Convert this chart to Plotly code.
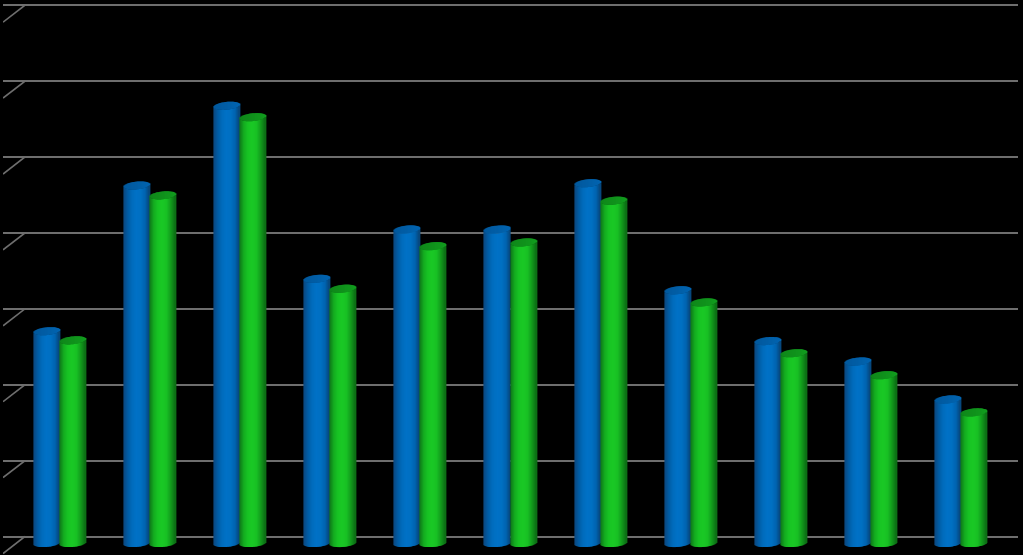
import numpy as np
import plotly.graph_objects as go

W, H = 1023, 555
categories = [f"C{i}" for i in range(1, 12)]
series_blue = [27.9, 47.1, 57.6, 34.8, 41.3, 41.3, 47.4, 33.3, 26.6, 23.9, 18.9]
series_green = [26.7, 45.8, 56.1, 33.5, 39.1, 39.6, 45.1, 31.7, 25.0, 22.1, 17.2]
grid_values = [0, 10, 20, 30, 40, 50, 60, 70]

PX = 7.59            # pixels per unit
BASE_PX = 543        # floor line for bars (front of the 3D floor)
GRID0_PX = 536.5     # back wall value 0
N = 26               # one-pixel strips per cylinder
GROUP_PX = 90.15

side_blue = [(12, 70, 124), (2, 92, 164), (0, 108, 188), (0, 114, 198), (0, 112, 194), (0, 100, 176), (8, 68, 120)]
cap_blue = [(2, 88, 156), (2, 100, 176)]
side_green = [(14, 116, 24), (20, 172, 32), (24, 196, 36), (26, 200, 38), (24, 192, 36), (18, 152, 28), (12, 106, 20)]
cap_green = [(14, 134, 26), (18, 156, 30)]


def shade(stops, t):
    p = t * (len(stops) - 1)
    i = min(int(p), len(stops) - 2)
    f = p - i
    c = [stops[i][k] * (1 - f) + stops[i + 1][k] * f for k in range(3)]
    return "rgb(%d,%d,%d)" % tuple(round(v) for v in c)


fig = go.Figure()

# invisible trace so the wall axis draws its grid
fig.add_scatter(x=[0, 1], y=[0, 70], mode="none", xaxis="x", yaxis="y",
                hoverinfo="skip", showlegend=False)
# floor/side-wall diagonals
dx, dy = [], []
for g in grid_values:
    dx += [0, 1, None]
    dy += [g - 17 / PX, g, None]
fig.add_scatter(x=dx, y=dy, mode="lines", line=dict(color="#6e6e6e", width=1.7),
                xaxis="x2", yaxis="y", hoverinfo="skip", showlegend=False)

x_idx = list(range(len(categories)))
unit_w = 1 / GROUP_PX
semi = 3.9 / PX
tilt = 1.2 / PX


def cylinder(values, centre_px, stops, cap):
    values = np.array(values)
    for s in range(N):
        u = -1 + (2 * s + 1) / N
        t = (s + 0.5) / N
        arc = semi * np.sqrt(1 - u * u)
        lean = tilt * u
        left = (centre_px + (s - N / 2)) * unit_w
        lo = -arc + lean
        hi = values - arc + lean
        strip = (1.6 if s < N - 1 else 1.0) * unit_w
        # wall strip
        fig.add_bar(x=x_idx, base=[lo] * len(values), y=(hi - lo).tolist(),
                    width=strip, offset=left,
                    marker=dict(color=shade(stops, t), line=dict(width=0)),
                    hoverinfo="skip", showlegend=False, xaxis="x3", yaxis="y3")
        # cap strip
        fig.add_bar(x=x_idx, base=hi.tolist(), y=[2 * arc] * len(values),
                    width=strip, offset=left,
                    marker=dict(color=shade(cap, t), line=dict(width=0)),
                    hoverinfo="skip", showlegend=False, xaxis="x3", yaxis="y3")


# blue centre sits 13 px left of the group centre, green 13 px right
cylinder(series_blue, -13, side_blue, cap_blue)
cylinder(series_green, 13, side_green, cap_green)

fig.update_layout(
    width=W, height=H, autosize=False,
    margin=dict(l=0, r=0, t=0, b=0, pad=0),
    paper_bgcolor="black", plot_bgcolor="rgba(0,0,0,0)",
    barmode="overlay", showlegend=False,
    xaxis=dict(domain=[25 / W, 1018 / W], range=[0, 1], visible=False, anchor="y",
               fixedrange=True),
    yaxis=dict(domain=[0, 1], range=[(GRID0_PX - H) / PX, GRID0_PX / PX], anchor="x",
               tickmode="array", tickvals=grid_values, ticks="", showticklabels=False,
               showgrid=True, gridcolor="#6e6e6e", gridwidth=1.7, zeroline=False,
               showline=False, fixedrange=True),
    xaxis2=dict(domain=[3 / W, 25 / W], range=[0, 1], visible=False, anchor="y",
                fixedrange=True),
    xaxis3=dict(domain=[14.4 / W, 1006.4 / W], range=[-0.5, len(categories) - 0.5],
                visible=False, anchor="y3", fixedrange=True),
    yaxis3=dict(domain=[0, 1], range=[(BASE_PX - H) / PX, BASE_PX / PX],
                visible=False, anchor="x3", fixedrange=True),
)
fig.write_html("out.html", config={"displayModeBar": False},
               post_script="document.body.style.margin='0';document.body.style.background='black';")
